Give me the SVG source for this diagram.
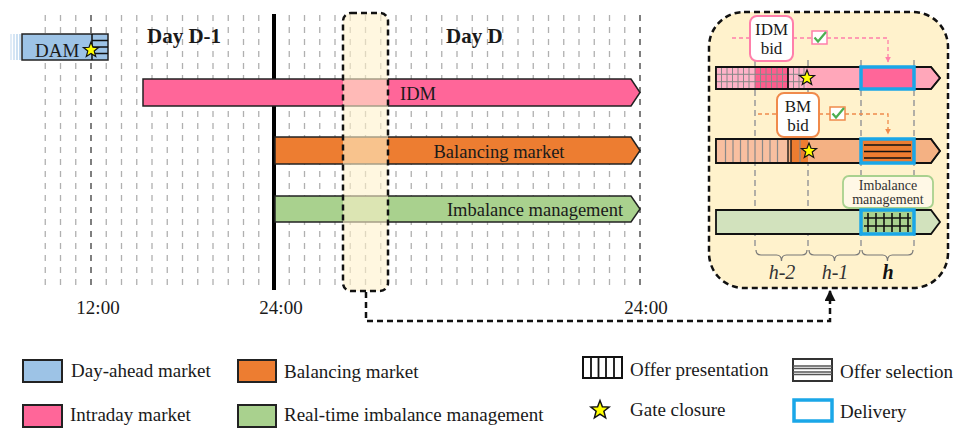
<svg xmlns="http://www.w3.org/2000/svg" width="956" height="428" viewBox="0 0 956 428">
<defs>
<style>
text{font-family:"Liberation Serif","Times New Roman",serif;fill:#1a1a1a}
.lbl{font-size:19px}
.bl{font-size:18.5px}
.day{font-size:21px;font-weight:bold}
.grid{stroke:#b0b0b0;stroke-width:1.3;stroke-dasharray:6 6;fill:none}
.gridd{stroke:#555;stroke-width:1.5;stroke-dasharray:6 6;fill:none}
.bar{stroke:#222;stroke-width:1.5}
.hl{stroke:#111;stroke-width:2.5;stroke-dasharray:6 4}
.pg{stroke:#999;stroke-width:1.5;stroke-dasharray:6 4;fill:none}
.del{stroke:#1AA7E8;stroke-width:3.5}
.star{fill:#FFFF00;stroke:#111;stroke-width:1.2}
.brace{stroke:#777;stroke-width:1.2;fill:none}
.hl2{font-size:20px;font-style:italic;fill:#333}
</style>
<polygon id="star" points="0,-8 2,-2.75 7.61,-2.47 3.23,1.05 4.7,6.47 0,3.4 -4.7,6.47 -3.23,1.05 -7.61,-2.47 -2,-2.75"/>
<marker id="arrUp" viewBox="0 0 10 10" refX="9" refY="5" markerWidth="11" markerHeight="11" orient="auto" markerUnits="userSpaceOnUse">
<path d="M0,0 L10,5 L0,10 Z" fill="#111"/>
</marker>
<marker id="arrP" viewBox="0 0 10 10" refX="5" refY="9" markerWidth="6" markerHeight="6" orient="0" markerUnits="userSpaceOnUse">
<path d="M0,0 L10,0 L5,10 Z" fill="#FF7FAA"/>
</marker>
<marker id="arrO" viewBox="0 0 10 10" refX="5" refY="9" markerWidth="6" markerHeight="6" orient="0" markerUnits="userSpaceOnUse">
<path d="M0,0 L10,0 L5,10 Z" fill="#F08A4B"/>
</marker>
</defs>

<!-- grid -->
<g id="grid">
<path class="grid" d="M45.25 15V288M60.5 15V288M75.75 15V288M106.25 15V288M121.5 15V288M136.75 15V288M152 15V288M167.25 15V288M182.5 15V288M197.75 15V288M213 15V288M228.25 15V288M243.5 15V288M258.75 15V288M289.25 15V288M304.5 15V288M319.75 15V288M335 15V288M350.25 15V288M365.5 15V288M380.75 15V288M396 15V288M411.25 15V288M426.5 15V288M441.75 15V288M457 15V288M472.25 15V288M487.5 15V288M502.75 15V288M518 15V288M533.25 15V288M548.5 15V288M563.75 15V288M579 15V288M594.25 15V288M609.5 15V288M624.75 15V288"/>
<path class="gridd" d="M91 15V288M640 15V288"/>
<line x1="274" y1="14" x2="274" y2="290" stroke="#000" stroke-width="4"/>
</g>

<!-- DAM -->
<g id="dam">
<g stroke="#9DC3E6" stroke-width="1.2">
<line x1="11" y1="34" x2="11" y2="60" opacity="0.5"/>
<line x1="14" y1="34" x2="14" y2="60" opacity="0.7"/>
<line x1="17" y1="34" x2="17" y2="60" opacity="0.85"/>
<line x1="20" y1="34" x2="20" y2="60"/>
</g>
<rect class="bar" x="22" y="34" width="86" height="26" fill="#9DC3E6"/>
<g stroke="#111" stroke-width="1.5">
<line x1="92" y1="34" x2="92" y2="60"/>
<line x1="92" y1="40.5" x2="108" y2="40.5"/>
<line x1="92" y1="47" x2="108" y2="47"/>
<line x1="92" y1="53.5" x2="108" y2="53.5"/>
</g>
<text x="35" y="56.5" style="font-size:19px">DAM</text>
<use href="#star" class="star" x="91" y="50"/>
</g>

<text class="day" x="147" y="43">Day D-1</text>
<text class="day" x="446" y="43">Day D</text>

<!-- market bars -->
<g id="idm">
<polygon class="bar" points="143,79 631,79 640,92.5 631,106 143,106" fill="#FF6699"/>
<text class="bl" x="400" y="100">IDM</text>
</g>
<g id="bm">
<polygon class="bar" points="275,137 631,137 640,150.5 631,164 275,164" fill="#ED7D31"/>
<text class="bl" x="499" y="158" text-anchor="middle">Balancing market</text>
</g>
<g id="im">
<polygon class="bar" points="275,196 631,196 640,209 631,222 275,222" fill="#A9D18E"/>
<text class="bl" x="535" y="216" text-anchor="middle">Imbalance management</text>
</g>

<!-- highlight window -->
<g id="window">
<rect x="343" y="13" width="45" height="278" rx="8" fill="#FFF2CC" opacity="0.6"/>
<rect class="hl" x="343" y="13" width="45" height="278" rx="8" fill="none"/>
</g>

<!-- time labels -->
<g id="times">
<text class="lbl" x="98" y="314" text-anchor="middle">12:00</text>
<text class="lbl" x="281" y="314" text-anchor="middle">24:00</text>
<text class="lbl" x="646" y="314" text-anchor="middle">24:00</text>
</g>

<!-- connectors -->
<g id="connectors">
<path d="M366 292V321H830V291" fill="none" stroke="#111" stroke-width="2.5" stroke-dasharray="6 4" marker-end="url(#arrUp)"/>
</g>

<!-- zoom panel -->
<g id="panel">
<rect class="hl" x="709" y="12" width="239" height="276" rx="35" fill="#FFF2CC"/>
<path class="pg" d="M755 60V248M808 60V248M861 60V248M914 60V248"/>

<!-- IDM bid -->
<g id="idmbid">
<path d="M732 38H750M793 38H812M827 38H888V62" fill="none" stroke="#FF7FAA" stroke-width="1.3" stroke-dasharray="4 3" marker-end="url(#arrP)"/>
<rect x="750" y="16" width="43" height="45" rx="7" fill="#fff" stroke="#FF7FAA" stroke-width="2"/>
<text x="771.5" y="35" text-anchor="middle" style="font-size:17px">IDM</text>
<text x="771.5" y="54" text-anchor="middle" style="font-size:17px">bid</text>
<rect x="812" y="31" width="15" height="13" fill="#fff" stroke="#FF7FAA" stroke-width="1.5"/>
<path d="M814.5 37.5L818 41.5L826 32" fill="none" stroke="#4CAF50" stroke-width="2.2"/>
</g>

<!-- IDM row -->
<g id="idmrow">
<polygon class="bar" points="716,67 931,67 940,78 931,89 716,89" fill="#FFA7BA"/>
<rect x="716" y="67" width="39" height="22" fill="#FFB3C9"/>
<rect x="755" y="67" width="33" height="22" fill="#FF5C8D"/>
<rect x="788" y="67" width="19" height="22" fill="#FFB3C9"/>
<path d="M721.5 67V89M727 67V89M732.5 67V89M738 67V89M743.5 67V89M749 67V89M755 67V89M760.5 67V89M766 67V89M771.5 67V89M777 67V89M782.5 67V89M793.5 67V89M799 67V89M804 67V89M716 74.3H807M716 81.7H807" stroke="#888" stroke-width="1"/>
<line x1="788" y1="67" x2="788" y2="89" stroke="#111" stroke-width="1.8"/>
<polygon points="716,67 931,67 940,78 931,89 716,89" fill="none" stroke="#111" stroke-width="1.8"/>
<rect class="del" x="861" y="67" width="53" height="22" fill="#FF6699"/>
<use href="#star" class="star" x="807" y="78"/>
</g>

<!-- BM bid -->
<g id="bmbid">
<path d="M758 114H777M819 114H830M845 114H888V134" fill="none" stroke="#F08A4B" stroke-width="1.3" stroke-dasharray="4 3" marker-end="url(#arrO)"/>
<rect x="777" y="93" width="42" height="44" rx="7" fill="#fff" stroke="#F08A4B" stroke-width="2"/>
<text x="798" y="112" text-anchor="middle" style="font-size:17px">BM</text>
<text x="798" y="131" text-anchor="middle" style="font-size:17px">bid</text>
<rect x="830" y="107" width="15" height="13" fill="#fff" stroke="#F08A4B" stroke-width="1.5"/>
<path d="M832.5 113.5L836 117.5L844 108" fill="none" stroke="#4CAF50" stroke-width="2.2"/>
</g>

<!-- BM row -->
<g id="bmrow">
<polygon class="bar" points="716,139 931,139 940,151 931,163 716,163" fill="#F4B183"/>
<rect x="716" y="139" width="72" height="24" fill="#F8BFA0"/>
<rect x="791" y="139" width="17" height="24" fill="#ED7D31"/>
<path d="M725.5 139V163M733 139V163M740.5 139V163M748 139V163M755 139V163M762.5 139V163M770 139V163M777.5 139V163M800 139V163" stroke="#888" stroke-width="1.2"/>
<path d="M788 139V163M791 139V163" stroke="#111" stroke-width="1.3"/>
<polygon points="716,139 931,139 940,151 931,163 716,163" fill="none" stroke="#111" stroke-width="1.8"/>
<rect class="del" x="861" y="139" width="53" height="24" fill="#ED7D31"/>
<path d="M864 145H911M864 151.5H911M864 158H911" stroke="#111" stroke-width="1.5"/>
<use href="#star" class="star" x="809" y="151"/>
</g>

<!-- Imbalance label -->
<g id="imlabel">
<rect x="843" y="176" width="90" height="32" rx="6" fill="#FFF8E6" stroke="#A9D18E" stroke-width="1.8"/>
<text x="888" y="189.5" text-anchor="middle" style="font-size:14px;fill:#333">Imbalance</text>
<text x="888" y="204" text-anchor="middle" style="font-size:14px;fill:#333">management</text>
</g>

<!-- Imbalance row -->
<g id="imrow">
<polygon points="716,210 931,210 940,222 931,234 716,234" fill="#D2E2BD" stroke="#111" stroke-width="1.8"/>
<rect class="del" x="861" y="210" width="53" height="24" fill="#A9D18E"/>
<path d="M868 213V232M876 213V232M884 213V232M892 213V232M900 213V232M908 213V232M864 218H911M864 226H911" stroke="#111" stroke-width="1.6"/>
</g>

<!-- braces -->
<g id="braces">
<path class="brace" d="M756 250q0 5 5 5H776.5q5 0 5 6q0 -6 5 -6H802q5 0 5 -5"/>
<path class="brace" d="M809 250q0 5 5 5H829.5q5 0 5 6q0 -6 5 -6H855q5 0 5 -5"/>
<path class="brace" d="M862 250q0 5 5 5H882.5q5 0 5 6q0 -6 5 -6H908q5 0 5 -5"/>
<text class="hl2" x="782" y="279" text-anchor="middle">h-2</text>
<text class="hl2" x="835" y="279" text-anchor="middle">h-1</text>
<text class="hl2" x="888" y="279" text-anchor="middle" style="font-weight:bold;fill:#111">h</text>
</g>
</g>

<!-- legend -->
<g id="legend">
<rect x="23" y="360" width="39" height="22" fill="#9DC3E6" stroke="#222" stroke-width="2"/>
<text class="lbl" x="71" y="377">Day-ahead market</text>
<rect x="238" y="360" width="38" height="22" fill="#ED7D31" stroke="#222" stroke-width="2"/>
<text class="lbl" x="284" y="378">Balancing market</text>
<rect x="23" y="405" width="39" height="22" fill="#FF6699" stroke="#222" stroke-width="2"/>
<text class="lbl" x="70" y="421">Intraday market</text>
<rect x="238" y="405" width="38" height="22" fill="#A9D18E" stroke="#222" stroke-width="2"/>
<text class="lbl" x="284" y="421">Real-time imbalance management</text>

<rect x="583" y="357" width="39" height="21" fill="#fff" stroke="#111" stroke-width="2"/>
<path d="M591 357V378M598.5 357V378M606 357V378M614 357V378" stroke="#111" stroke-width="1.8"/>
<text class="lbl" x="630" y="376">Offer presentation</text>

<rect x="793" y="359" width="39" height="22" fill="#fff" stroke="#333" stroke-width="2"/>
<path d="M793 366H832M793 368.5H832M793 372H832M793 374.5H832" stroke="#555" stroke-width="1.3"/>
<text class="lbl" x="840" y="378">Offer selection</text>

<use href="#star" class="star" x="600" y="410" transform="translate(600 410) scale(1.2) translate(-600 -410)"/>
<text class="lbl" x="630" y="416">Gate closure</text>

<rect x="794" y="400" width="38" height="21" fill="#fff" stroke="#1AA7E8" stroke-width="3.5"/>
<text class="lbl" x="840" y="418">Delivery</text>
</g>
</svg>
